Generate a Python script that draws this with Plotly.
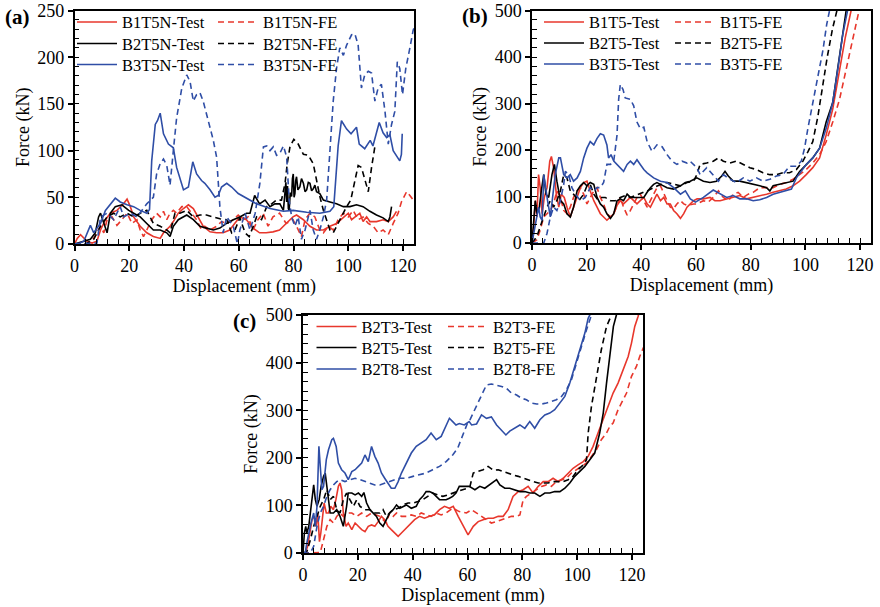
import plotly.graph_objects as go

# ---------------- data (displacement mm, force kN) ----------------
a_b1_test = [(0,0),(1,6),(2.2,10),(3.4,6),(4.6,3),(6.4,1),(8.2,3),(9.5,15),(11.3,26),(13.1,33),(15.5,36),(17.9,43),(19.2,48),(20.4,40),(21.6,29),(24,19),(26.4,12),(28.8,8),(31.3,6),(32.5,12),(33.7,15),(34.9,19),(36.1,24),(37.9,33),(39.8,38),(41.6,42),(43.4,38),(45.2,29),(47,19),(49.5,13),(51.9,12),(54.3,12),(56.7,15),(58.5,22),(60.4,29),(62.8,26),(65.2,17),(67.6,12),(70,12),(72.5,13),(74.9,15),(77.3,22),(79.8,29),(81.1,31),(83.6,26),(86,19),(88.4,15),(90.9,15),(93.3,19),(95.7,22),(98.2,29),(100,33),(101.2,26),(102.4,29),(104.2,33),(105.4,24),(106.7,29),(107.9,24),(110.3,24),(112.7,26),(114.6,24),(116.4,29),(117.6,35)]
a_b1_fe = [(0,0),(4.6,0),(7,6),(9.5,19),(10.7,12),(11.9,26),(13.7,29),(15.5,20),(17.3,26),(19.2,33),(21,22),(22.8,26),(24,15),(25.2,8),(26.4,15),(28.2,26),(30,33),(31.3,29),(32.5,35),(33.7,26),(34.9,33),(36.1,36),(37.3,33),(39.2,40),(41,40),(42.8,33),(44.6,26),(46.4,15),(47.6,19),(49.5,15),(51.9,19),(53.7,24),(55.5,22),(58,26),(59.8,31),(61.6,26),(63.4,29),(65.2,15),(67,26),(68.9,33),(70.7,19),(72.5,29),(74.9,33),(77.3,22),(79.8,26),(81.1,19),(82.9,8),(84.2,26),(86,33),(87.8,29),(89.6,15),(90.9,12),(92.7,19),(94.5,15),(96.3,26),(98.2,33),(100,29),(101.8,36),(103.6,26),(105.4,29),(107.3,22),(109.1,19),(110.9,12),(112.7,15),(114.6,10),(116.4,22),(118.2,33),(119.4,45),(121.3,56),(122.5,52),(123.7,47),(124,46)]
a_b2_test = [(0,0),(1,1),(3.4,3),(5.8,5),(7.6,12),(8.8,29),(9.5,33),(10.7,22),(11.9,12),(13.1,33),(14.9,40),(17.3,42),(19.8,36),(21.6,33),(24,29),(26.4,22),(28.8,15),(31.3,15),(33.7,12),(34.9,8),(36.1,19),(37.9,26),(39.8,29),(41,31),(43.4,26),(45.8,19),(48.2,17),(50.7,15),(53.1,17),(55.5,22),(58,26),(60.4,29),(62.8,33),(64.1,33),(65.8,52),(67.6,43),(69.6,47),(71.4,40),(73.2,43),(75,43),(76.3,36),(77.2,66),(77.5,45),(77.8,62),(78.1,38),(78.4,36),(78.8,55),(79.3,51),(79.6,70),(79.9,75),(80.2,50),(80.5,54),(80.8,68),(81.1,72),(81.6,58),(82.3,61),(82.9,70),(83.6,65),(84.2,56),(84.8,58),(85.4,66),(86,65),(86.6,57),(87.2,59),(87.8,63),(88.4,56),(89.6,54),(90.9,47),(93.3,45),(95.7,43),(98.2,40),(100.6,40),(103,42),(105.4,40),(107.9,35),(110.3,31),(112.7,28),(114.6,24),(115.2,29),(115.8,40)]
a_b2_fe = [(0,0),(4,0),(7,5),(9.5,19),(11.9,29),(14.3,33),(16.7,29),(19.2,33),(21.6,29),(24,33),(26.4,36),(28.8,22),(31.3,19),(33.7,15),(34.9,12),(36.7,33),(38.5,33),(41,36),(43.4,29),(45.8,31),(48.2,31),(50.7,29),(53.1,27),(55.6,26),(57.4,12),(58.6,15),(60.4,28),(62.3,12),(63.8,8),(65.3,19),(66.5,29),(68.3,26),(70.2,40),(72,43),(73.8,47),(75.6,47),(76.9,65),(77.7,86),(78.7,104),(80.1,112),(81.7,107),(83.6,96),(85.4,95),(87.2,86),(88.4,68),(89.6,51),(90.9,36),(92.1,26),(93.3,15),(94.5,12),(95.7,19),(97.5,29),(99.4,40),(100.9,47),(102.4,68),(103.6,84),(104.8,82),(106,68),(107.3,56),(108.5,82),(109.7,104)]
a_b3_test = [(0,0),(2,1),(3.4,3),(5.2,15),(5.8,20),(7,12),(9.5,22),(11.3,36),(13.1,43),(14.9,49),(16.7,45),(19.2,42),(21.6,40),(24,36),(26.4,33),(27.4,37),(28.2,89),(29.5,128),(30.3,132),(31.3,140),(32.5,118),(34.3,107),(36.1,103),(37.3,82),(39.8,58),(41.6,61),(43.2,88),(44.6,75),(46.4,68),(47.6,65),(49.5,58),(51.3,50),(52.5,52),(53.7,61),(55.6,65),(57.4,61),(59.8,54),(62.9,49),(66.5,43),(71.4,38),(76.3,35),(79.9,36),(84.8,34),(89.6,33),(93.3,35),(94.7,40),(95.5,70),(96.3,105),(97.5,132),(99.4,123),(101,118),(103,125),(104,107),(106,102),(108,111),(109,105),(111.3,130),(112.7,119),(114,114),(115.2,117),(116.4,100),(117.6,95),(118.8,89),(119.4,96),(119.7,118)]
a_b3_fe = [(0,0),(8.2,1),(9.5,29),(11.9,33),(14.3,26),(16.7,40),(18,29),(20.4,33),(22.8,29),(25.2,38),(26.4,43),(28.8,50),(30,75),(31.3,86),(32.5,91),(33.7,84),(34.9,63),(36.1,100),(37.3,135),(39.2,167),(41,181),(42.2,174),(43.4,153),(44.6,160),(45.8,162),(47,153),(48.8,132),(50.7,111),(51.9,93),(53.1,40),(54.3,12),(55.6,29),(58,19),(59.5,0),(60.4,15),(62.3,33),(64.1,15),(66,33),(67.7,65),(69,104),(70.2,105),(71.4,100),(72.6,104),(73.8,95),(75,97),(76.3,105),(77.5,93),(78.4,47),(79.3,29),(80.5,19),(81.7,29),(82.9,5),(84.2,15),(86,36),(87.2,15),(88.4,5),(89.6,15),(90.9,29),(92.1,47),(93.3,100),(94.5,153),(95.7,188),(96.9,210),(98.2,202),(99.4,213),(101.2,224),(102.4,225),(103.6,213),(104.8,167),(106,181),(107.3,185),(108.5,183),(109.7,153),(110.9,167),(112.1,171),(113.4,142),(114.6,107),(115.8,128),(117,142),(117.9,195),(118.8,188),(119.8,160),(121,188),(122.5,210),(123.7,229),(124.5,235)]

b_b1_test = [(0,0),(0.6,35),(1.2,91),(1.8,56),(2.4,147),(3,119),(3.7,63),(4.5,98),(5.5,119),(6.5,176),(7.1,186),(7.9,162),(8.9,105),(9.8,77),(10.7,105),(11.8,98),(12.8,77),(14,56),(15.2,77),(16.5,98),(17.7,119),(18.9,130),(20.1,133),(21.3,112),(22.6,91),(23.8,77),(25,63),(26.2,56),(27.4,49),(28.7,56),(29.9,63),(31.1,81),(32.3,91),(33.5,84),(34.8,91),(36,98),(37.2,91),(38.4,84),(39.6,91),(40.9,98),(42.1,84),(43.3,77),(44.5,91),(45.7,105),(47,91),(48.2,98),(49.4,84),(50.6,84),(51.8,70),(53,63),(54.3,53),(55.5,63),(56.7,77),(57.9,84),(59.1,91),(60.4,95),(62.7,95),(65.1,98),(66.9,91),(68.8,91),(71.2,95),(73.6,98),(76,102),(78.5,95),(80.9,98),(83.3,102),(85.8,105),(88.2,109),(90.6,112),(93,116),(95.5,123),(97.9,133),(100.3,147),(102.7,162),(105.2,183),(107.6,232),(110,288),(112.5,372),(114.6,442),(116.7,499),(117,520)]
b_b1_fe = [(0,0),(1.8,7),(3,28),(4.3,56),(5.5,63),(6.7,70),(7.9,84),(9.1,112),(10.4,98),(11.6,70),(12.8,63),(14,77),(15.2,98),(16.5,112),(17.7,119),(18.9,105),(20.1,84),(21.3,98),(22.6,112),(23.8,119),(25,98),(26.2,84),(27.4,63),(28.7,56),(29.9,63),(31.1,81),(32.3,98),(33.5,77),(34.8,60),(36,70),(37.2,84),(38.4,98),(39.6,105),(40.9,91),(42.1,77),(43.3,91),(44.5,105),(45.7,119),(47,123),(48.2,105),(49.4,91),(50.6,77),(51.8,74),(53,84),(54.3,91),(55.5,84),(56.7,81),(59.1,84),(60.3,84),(62.7,91),(64.5,88),(66.3,98),(68.2,112),(70,98),(71.8,91),(73.6,105),(75.4,109),(77.3,98),(79.1,105),(80.9,109),(83.3,119),(85.8,119),(88.2,119),(90.6,126),(93,130),(95.5,137),(97.9,147),(100.3,158),(102.7,172),(105.2,190),(107.6,218),(110,260),(112.5,309),(114.9,372),(117.3,442),(119.6,499),(119.9,520)]
b_b2_test = [(0,0),(0.6,56),(1.2,91),(1.8,63),(2.7,77),(3.4,112),(4.3,147),(5.1,105),(6.1,98),(7.3,147),(8.2,169),(9.1,133),(10.4,91),(11.6,84),(12.8,63),(14,56),(15.2,77),(16.5,112),(17.7,123),(18.9,130),(20.1,123),(21.3,130),(22.6,126),(23.8,98),(25,84),(26.2,77),(27.4,63),(28.7,53),(29.9,63),(31.1,91),(32.3,95),(33.5,91),(34.8,105),(36,98),(37.2,98),(38.4,98),(39.6,98),(40.9,98),(42.1,109),(43.3,119),(44.5,126),(45.7,130),(47,126),(49.4,119),(51.8,116),(54.3,123),(56.1,130),(57.9,133),(60.3,140),(62.7,133),(65.1,130),(67.5,133),(69.4,144),(70.6,154),(71.8,144),(73.6,133),(76,133),(78.5,130),(80.9,126),(83.3,123),(85.8,119),(87,112),(88.2,123),(90.6,126),(93,130),(95.5,133),(97.9,154),(100.3,169),(102.7,183),(105.2,204),(107.6,260),(110,302),(111.8,372),(113.5,442),(114.9,499),(115.2,520)]
b_b2_fe = [(0,0),(1.8,14),(3,35),(4.3,56),(5.5,77),(6.7,91),(7.9,77),(9.1,91),(10.4,112),(11.6,147),(12.8,140),(14,112),(15.2,105),(17.1,91),(18.9,105),(20.1,123),(21.3,126),(22.6,105),(23.8,95),(25,98),(26.8,98),(28.7,91),(30.5,91),(32.3,98),(34.1,102),(36,98),(37.8,102),(39.6,105),(42.1,112),(44.5,119),(47,126),(49.4,130),(51.8,126),(54.3,123),(56.7,130),(59.1,133),(60.3,147),(61.5,169),(63.9,172),(66.3,176),(68.2,183),(70,176),(72.4,172),(74.8,176),(77.3,169),(79.7,162),(82.1,158),(84.5,151),(87,147),(89.4,147),(91.8,151),(94.2,151),(96.7,158),(99.1,176),(101,197),(102.7,218),(104.5,270),(106,330),(108,400),(109.9,460),(111.5,499),(111.8,520)]
b_b3_test = [(0,0),(1.2,35),(1.8,56),(2.4,77),(3,56),(3.7,49),(4.3,147),(4.9,119),(5.7,91),(6.7,56),(7.7,105),(8.5,147),(9.8,183),(10.4,183),(11.6,147),(12.8,140),(14,147),(15.2,133),(16.5,140),(17.7,154),(18.9,183),(20.1,204),(21.3,218),(22.6,211),(23.8,225),(25,235),(26.2,232),(27.4,211),(28,183),(28.9,190),(29.9,176),(31.1,169),(32.3,162),(33.5,154),(34.8,169),(36,176),(37.2,169),(38.4,179),(39.6,169),(40.9,158),(42.1,151),(44.5,140),(47,133),(49.4,130),(51.8,119),(54.3,105),(56.1,112),(57.9,95),(59.8,88),(62.7,98),(66.3,114),(68.8,105),(71.2,98),(73.6,102),(76,95),(78.5,95),(80.9,91),(83.3,93),(85.8,98),(88.2,105),(90.6,109),(93,112),(94.9,116),(96.7,140),(98.5,154),(100.3,169),(102.7,183),(105.2,204),(107.6,246),(110,302),(111.8,372),(113.7,449),(115.4,499),(115.7,520)]
b_b3_fe = [(0,0),(4.3,0),(5.5,21),(6.7,56),(7.9,77),(9.1,70),(10.4,91),(11.6,126),(12.2,154),(13.4,147),(14.6,119),(15.9,105),(17.7,91),(19.5,98),(21.3,119),(22.6,112),(23.8,119),(25,119),(26.2,130),(27.4,169),(28.7,169),(29.9,176),(31.1,232),(31.7,309),(32.3,341),(33.3,330),(34.1,312),(36,309),(37.2,295),(38.4,260),(39.6,246),(40.9,249),(42.1,218),(43.9,197),(45.7,211),(47.6,207),(49.4,190),(51.2,176),(53,169),(54.9,176),(56.7,172),(57.8,176),(60.3,162),(61.5,147),(63.9,162),(66.3,147),(68.2,133),(70,147),(72.4,137),(74.8,130),(77.3,140),(79.7,133),(82.1,140),(84.5,133),(87,137),(89.4,144),(91.8,147),(94.2,165),(96.7,165),(98.5,176),(99.7,204),(100.9,246),(102.7,302),(104.6,358),(106.4,414),(107.8,470),(108.8,499),(109.1,520)]

c_t3_test = [(0,0),(0.8,0),(1.7,14),(2.4,42),(3.3,70),(4.1,77),(4.8,56),(5.4,84),(6,24),(6.5,42),(7.1,77),(7.7,105),(8.5,84),(9.3,84),(10.1,98),(11.1,91),(12,112),(12.9,140),(13.5,147),(14.1,133),(14.7,84),(15.7,56),(16.5,63),(17.8,49),(19,63),(20.2,56),(21.4,49),(22.6,45),(23.8,56),(25,59),(26.2,56),(27.4,66),(28.6,77),(29.8,70),(31,56),(32.2,49),(33.5,42),(34.7,35),(35.9,42),(37.1,49),(38.3,56),(39.5,63),(40.7,70),(42.5,77),(44.3,73),(46.1,77),(47.9,80),(49.8,91),(51.6,98),(53.4,94),(54.8,98),(56.6,77),(58.4,56),(60.2,38),(62.1,56),(63.9,66),(65.7,70),(67.5,73),(69.4,73),(71.2,77),(73,77),(74.8,91),(76.6,119),(78.5,129),(80.3,133),(82.1,140),(83.9,126),(85.8,140),(87.6,150),(89.4,150),(91.2,157),(93.1,150),(94.9,157),(96.7,168),(98.5,178),(100.3,185),(102.2,192),(104,203),(105.8,224),(107.6,252),(109.5,280),(111.3,308),(113.1,336),(114.9,357),(116.7,385),(118.6,413),(119.8,441),(121,476),(122.2,497),(122.8,510)]
c_t3_fe = [(0,0),(6.3,1),(7.5,28),(8.7,56),(9.9,70),(11.1,63),(12.3,77),(13.5,84),(14.7,77),(15.9,84),(17.8,84),(19.6,77),(21.4,84),(23.2,77),(25,84),(26.8,80),(28,77),(29.2,70),(30.4,63),(31.6,84),(32.9,77),(34.1,84),(35.9,77),(37.7,77),(39.5,80),(41.3,77),(43.1,84),(44.9,80),(46.7,77),(48.6,84),(50.4,80),(52.2,84),(54.6,94),(57,87),(59.6,84),(61.5,91),(63.3,84),(65.1,77),(66.9,70),(68.7,63),(70.6,66),(72.4,70),(74.2,73),(76,77),(77.9,77),(79.1,80),(80.3,112),(81.5,119),(83.3,126),(85.2,133),(87,140),(88.8,143),(90.6,140),(92.4,150),(94.3,154),(96.1,157),(97.9,168),(99.7,175),(101.6,182),(103.4,189),(105.2,203),(107,217),(108.8,238),(110.7,252),(111.9,266),(113.1,273),(114.9,301),(116.7,322),(118,336),(119.8,371),(121.6,392),(122.8,413),(123.8,427),(124.2,432)]
c_t5_test = [(0,0),(0.5,42),(1,56),(1.4,42),(2.1,56),(2.7,84),(3.4,112),(3.9,143),(4.5,112),(5.1,98),(5.9,112),(6.6,140),(7.5,161),(8.1,168),(8.7,140),(9.3,105),(9.9,84),(11.1,84),(12.3,91),(13.5,77),(14.7,56),(15.9,98),(16.5,126),(17.8,126),(19,122),(20.2,126),(21.4,119),(22.2,127),(23.2,105),(24.4,91),(25.6,84),(26.8,77),(28,63),(29.2,56),(30.4,70),(31.6,84),(32.9,91),(34.1,101),(35.3,94),(36.5,98),(37.7,101),(39.5,94),(41.3,98),(42.5,112),(43.7,119),(44.9,129),(46.1,129),(47.3,126),(48.6,119),(49.8,112),(51,112),(52.2,112),(53.4,115),(54.6,119),(55.8,126),(57,140),(58.8,140),(60.6,140),(62.7,133),(64.5,140),(66.3,136),(68.1,143),(69.6,150),(70.6,154),(71.8,143),(73.6,136),(75.4,136),(77.3,133),(79.1,129),(80.9,129),(82.7,126),(84.5,126),(86.4,119),(88.2,126),(90,126),(91.8,129),(93.7,129),(95.5,136),(97.3,147),(99.1,161),(100.9,171),(102.8,182),(104.6,196),(106.4,210),(108.2,252),(109.5,294),(110.7,357),(111.9,420),(113.2,476),(114.3,500),(114.5,520)]
c_t5_fe = [(0,0),(1.4,3),(2.7,28),(3.9,56),(5.1,77),(6.3,98),(7.5,112),(8.7,133),(9.9,112),(11.1,119),(12.3,91),(13.5,84),(14.7,112),(15.9,126),(17.1,112),(18.4,98),(19.6,112),(20.8,98),(22.6,91),(24.4,91),(26.2,84),(28,84),(29.2,91),(30.4,77),(31.6,84),(32.9,91),(34.7,94),(36.5,101),(38.3,105),(40.1,105),(41.9,108),(43.7,112),(45.5,119),(47.3,126),(49.2,122),(51,119),(52.8,122),(54.6,126),(56.4,129),(58.2,133),(60,136),(60.9,140),(62.1,168),(63.9,171),(65.7,175),(67.5,182),(69.4,174),(71.2,175),(73,171),(74.8,168),(76.6,164),(78.5,161),(80.3,157),(82.1,154),(83.9,150),(85.8,147),(87.6,147),(89.4,147),(91.2,150),(93.1,150),(94.9,150),(96.7,154),(98.5,161),(100.3,175),(102.2,185),(103.4,196),(104,252),(105.2,308),(107,371),(108.8,427),(110.7,476),(112.5,500),(112.7,520)]
c_t8_test = [(0,0),(0.8,0),(1.4,21),(2.1,42),(2.9,63),(3.9,84),(4.5,56),(5.1,98),(5.8,224),(6.3,182),(6.9,133),(7.5,140),(8.5,196),(9.3,217),(10.5,238),(11.1,241),(12.1,224),(12.9,189),(14.1,175),(15.3,168),(16.5,154),(17.8,171),(19,175),(20.2,182),(21.4,189),(22.6,206),(23.8,192),(25,224),(26.2,203),(27.4,189),(28.6,168),(29.8,157),(31,147),(32.2,136),(33.5,136),(34.7,150),(35.9,168),(37.1,182),(38.3,196),(39.5,210),(41.3,224),(43.1,231),(44.9,238),(46.7,252),(48.6,238),(50.4,245),(52.2,266),(53.4,283),(54.6,276),(55.8,269),(57,272),(58.8,269),(60.6,276),(61.5,269),(63.3,271),(65.1,290),(66.9,283),(68.7,286),(70.6,269),(72.4,259),(74,248),(75.4,256),(77.3,262),(79.1,269),(80.9,262),(82.7,276),(84.5,262),(86.4,280),(88.2,290),(90,294),(91.8,301),(93.7,315),(95.5,329),(97.3,357),(99.1,392),(100.9,427),(102.8,462),(104,493),(104.6,500),(104.8,520)]
c_t8_fe = [(0,0),(2.7,0),(3.9,14),(5.1,56),(6.3,84),(7.5,98),(8.7,119),(9.9,133),(11.1,143),(12.3,150),(13.5,154),(15.3,150),(17.1,154),(19,157),(20.8,154),(22.6,150),(24.4,147),(26.2,143),(28,143),(29.8,147),(31.6,150),(33.5,154),(35.3,157),(37.7,157),(40.1,161),(42.5,164),(44.9,168),(47.3,175),(49.8,182),(52.2,192),(54.6,206),(56.4,220),(58.2,245),(60,273),(60.9,280),(63.3,308),(65.1,329),(66.9,353),(68.7,355),(70.6,353),(72.4,350),(74.2,346),(76,336),(77.9,332),(79.7,325),(81.5,322),(83.3,315),(85.2,313),(87,313),(88.8,315),(90.6,318),(92.4,322),(94.3,329),(96.1,343),(97.9,364),(99.7,399),(101.6,434),(103.4,469),(105.2,500),(105.4,520)]

names_a = ["B1T5N-Test", "B1T5N-FE", "B2T5N-Test", "B2T5N-FE", "B3T5N-Test", "B3T5N-FE"]
names_b = ["B1T5-Test", "B1T5-FE", "B2T5-Test", "B2T5-FE", "B3T5-Test", "B3T5-FE"]
names_c = ["B2T3-Test", "B2T3-FE", "B2T5-Test", "B2T5-FE", "B2T8-Test", "B2T8-FE"]

x_ticks = [0, 20, 40, 60, 80, 100, 120]
y_ticks_a = [0, 50, 100, 150, 200, 250]
y_ticks_bc = [0, 100, 200, 300, 400, 500]

# ---------------- styling ----------------
RED = "#E8372C"
BLACK = "#000000"
BLUE = "#2F4EA6"
FONT = "Liberation Serif, Times New Roman, serif"
W, H = 880, 607


def px(v):
    return v / W


def py(v):
    return 1 - v / H


panels = [
    dict(xa="x", ya="y", xd=(74.5, 414), yd=(10.5, 244), ymax=250, ydt=50, ymin_dt=10,
         data=[a_b1_test, a_b1_fe, a_b2_test, a_b2_fe, a_b3_test, a_b3_fe], names=names_a,
         leg_x=(77, 218), leg_y=(22, 43.5, 64.5), label="(a)", lab_xy=(17.5, 17), yt=y_ticks_a),
    dict(xa="x2", ya="y2", xd=(532, 871), yd=(10.5, 243), ymax=500, ydt=100, ymin_dt=20,
         data=[b_b1_test, b_b1_fe, b_b2_test, b_b2_fe, b_b3_test, b_b3_fe], names=names_b,
         leg_x=(544, 675), leg_y=(22, 43, 64), label="(b)", lab_xy=(474.5, 16), yt=y_ticks_bc),
    dict(xa="x3", ya="y3", xd=(303, 643), yd=(315, 553), ymax=500, ydt=100, ymin_dt=20,
         data=[c_t3_test, c_t3_fe, c_t5_test, c_t5_fe, c_t8_test, c_t8_fe], names=names_c,
         leg_x=(316.5, 448), leg_y=(326.5, 347.5, 369), label="(c)", lab_xy=(245, 321), yt=y_ticks_bc),
]

colors = [RED, RED, BLACK, BLACK, BLUE, BLUE]
dashes = ["solid", "6px,4px"] * 3

fig = go.Figure()
layout = dict(width=W, height=H, margin=dict(l=0, r=0, t=0, b=0),
              paper_bgcolor="white", plot_bgcolor="white", showlegend=True,
              font=dict(family=FONT, color="black"), annotations=[])

leg_n = 0
for pi, p in enumerate(panels):
    for si, ser in enumerate(p["data"]):
        leg_n += 1
        lname = "legend" if leg_n == 1 else f"legend{leg_n}"
        xs = [q[0] for q in ser]
        ys = [q[1] for q in ser]
        fig.add_trace(go.Scatter(x=xs, y=ys, mode="lines", name=p["names"][si],
                                 line=dict(color=colors[si], width=1.6, dash=dashes[si]),
                                 xaxis=p["xa"], yaxis=p["ya"], legend=lname))
        col = si % 2
        row = si // 2
        ly = p["leg_y"][row] - 17.3
        layout[lname] = dict(x=px(p["leg_x"][col] - 5), y=py(ly), xanchor="left", yanchor="top",
                             bgcolor="rgba(0,0,0,0)", borderwidth=0, itemwidth=40,
                             font=dict(family=FONT, size=16.5, color="black"))

    xkey = "xaxis" if pi == 0 else f"xaxis{pi+1}"
    ykey = "yaxis" if pi == 0 else f"yaxis{pi+1}"
    common = dict(showline=True, linecolor="black", linewidth=1.5, mirror=True,
                  ticks="outside", ticklen=5, tickwidth=1.5, tickcolor="black",
                  showgrid=False, zeroline=False, automargin=False,
                  ticklabeloverflow="allow",
                  tickfont=dict(family=FONT, size=18, color="black"))
    layout[xkey] = dict(common, domain=[px(p["xd"][0]), px(p["xd"][1])], range=[0, 124],
                        tickvals=x_ticks, anchor=p["ya"],
                        minor=dict(ticks="inside", ticklen=5, tickwidth=1, tickcolor="black", dtick=4, tick0=0),
                        title=dict(text="Displacement (mm)", font=dict(family=FONT, size=18), standoff=4))
    layout[ykey] = dict(common, domain=[py(p["yd"][1]), py(p["yd"][0])], range=[0, p["ymax"]],
                        tickvals=p["yt"], anchor=p["xa"],
                        minor=dict(ticks="inside", ticklen=5, tickwidth=1, tickcolor="black", dtick=p["ymin_dt"], tick0=0),
                        title=dict(text="Force (kN)", font=dict(family=FONT, size=18), standoff=3))
    layout["annotations"].append(dict(text=p["label"], x=px(p["lab_xy"][0]), y=py(p["lab_xy"][1]),
                                      xref="paper", yref="paper", showarrow=False,
                                      xanchor="center", yanchor="middle",
                                      font=dict(family=FONT, size=21, color="black", weight="bold")))

fig.update_layout(**layout)
fig.write_html("out.html")
